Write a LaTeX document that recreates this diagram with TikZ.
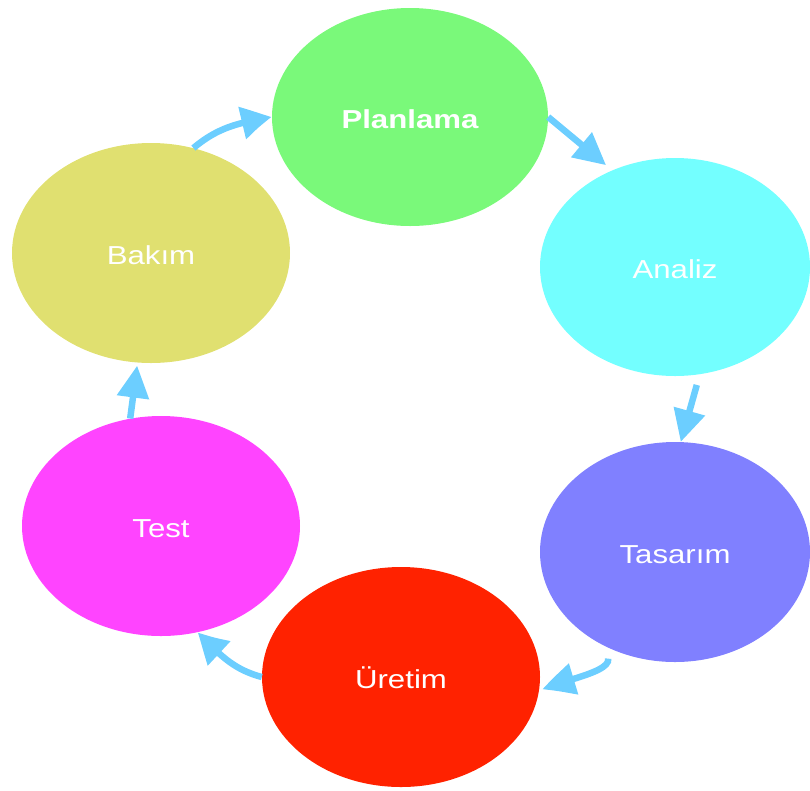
\documentclass[tikz,border=0pt]{standalone}
\usepackage{fontspec}
\setmainfont[FakeStretch=1.2]{Liberation Sans}
\usetikzlibrary{shapes.geometric,arrows.meta,bending}
\definecolor{cplan}{RGB}{122,249,122}
\definecolor{canal}{RGB}{115,255,255}
\definecolor{ctas}{RGB}{128,128,255}
\definecolor{curet}{RGB}{255,34,0}
\definecolor{ctest}{RGB}{255,68,255}
\definecolor{cbak}{RGB}{224,224,112}
\definecolor{carrow}{RGB}{108,206,255}
\tikzset{
  phase/.style={ellipse, draw=none, inner sep=0pt, text=white,
    text height=22pt, text depth=0pt,
    font=\fontsize{26}{30}\selectfont},
  flow/.style={draw=carrow, line width=6.5pt,
    -{Triangle[length=32pt,width=31pt,bend]}},
}
\begin{document}
\begin{tikzpicture}[x=1pt,y=-1pt]
\useasboundingbox (0,0) rectangle (810,790);
\node[phase, fill=cplan, minimum width=276pt, minimum height=218pt,
  font=\fontsize{26}{30}\selectfont\bfseries] (pl) at (410,117) {Planlama};
\node[phase, fill=canal, minimum width=270pt, minimum height=218pt] (an) at (675,267) {Analiz};
\node[phase, fill=ctas, minimum width=270pt, minimum height=220pt] (ta) at (675,552) {Tasarım};
\node[phase, fill=curet, minimum width=278pt, minimum height=220pt] (ur) at (401,677) {Üretim};
\node[phase, fill=ctest, minimum width=278pt, minimum height=220pt] (te) at (161,526) {Test};
\node[phase, fill=cbak, minimum width=278pt, minimum height=220pt] (ba) at (151,253) {Bakım};

\draw[flow] (ba.68) to[out=40, in=190] (pl.west);
\draw[flow, shorten >=8pt] (pl.east) -- (an.123);
\draw[flow, shorten <=11pt] (an.-77) -- (ta.87);
\draw[flow, shorten <=12pt, shorten >=4pt] (ta.234) to[out=-80, in=29] (ur.-6);
\draw[flow] (ur.west) to[out=165, in=-45] (te.-71);
\draw[flow, shorten >=3pt] (te.106) -- (ba.-97);
\end{tikzpicture}
\end{document}
